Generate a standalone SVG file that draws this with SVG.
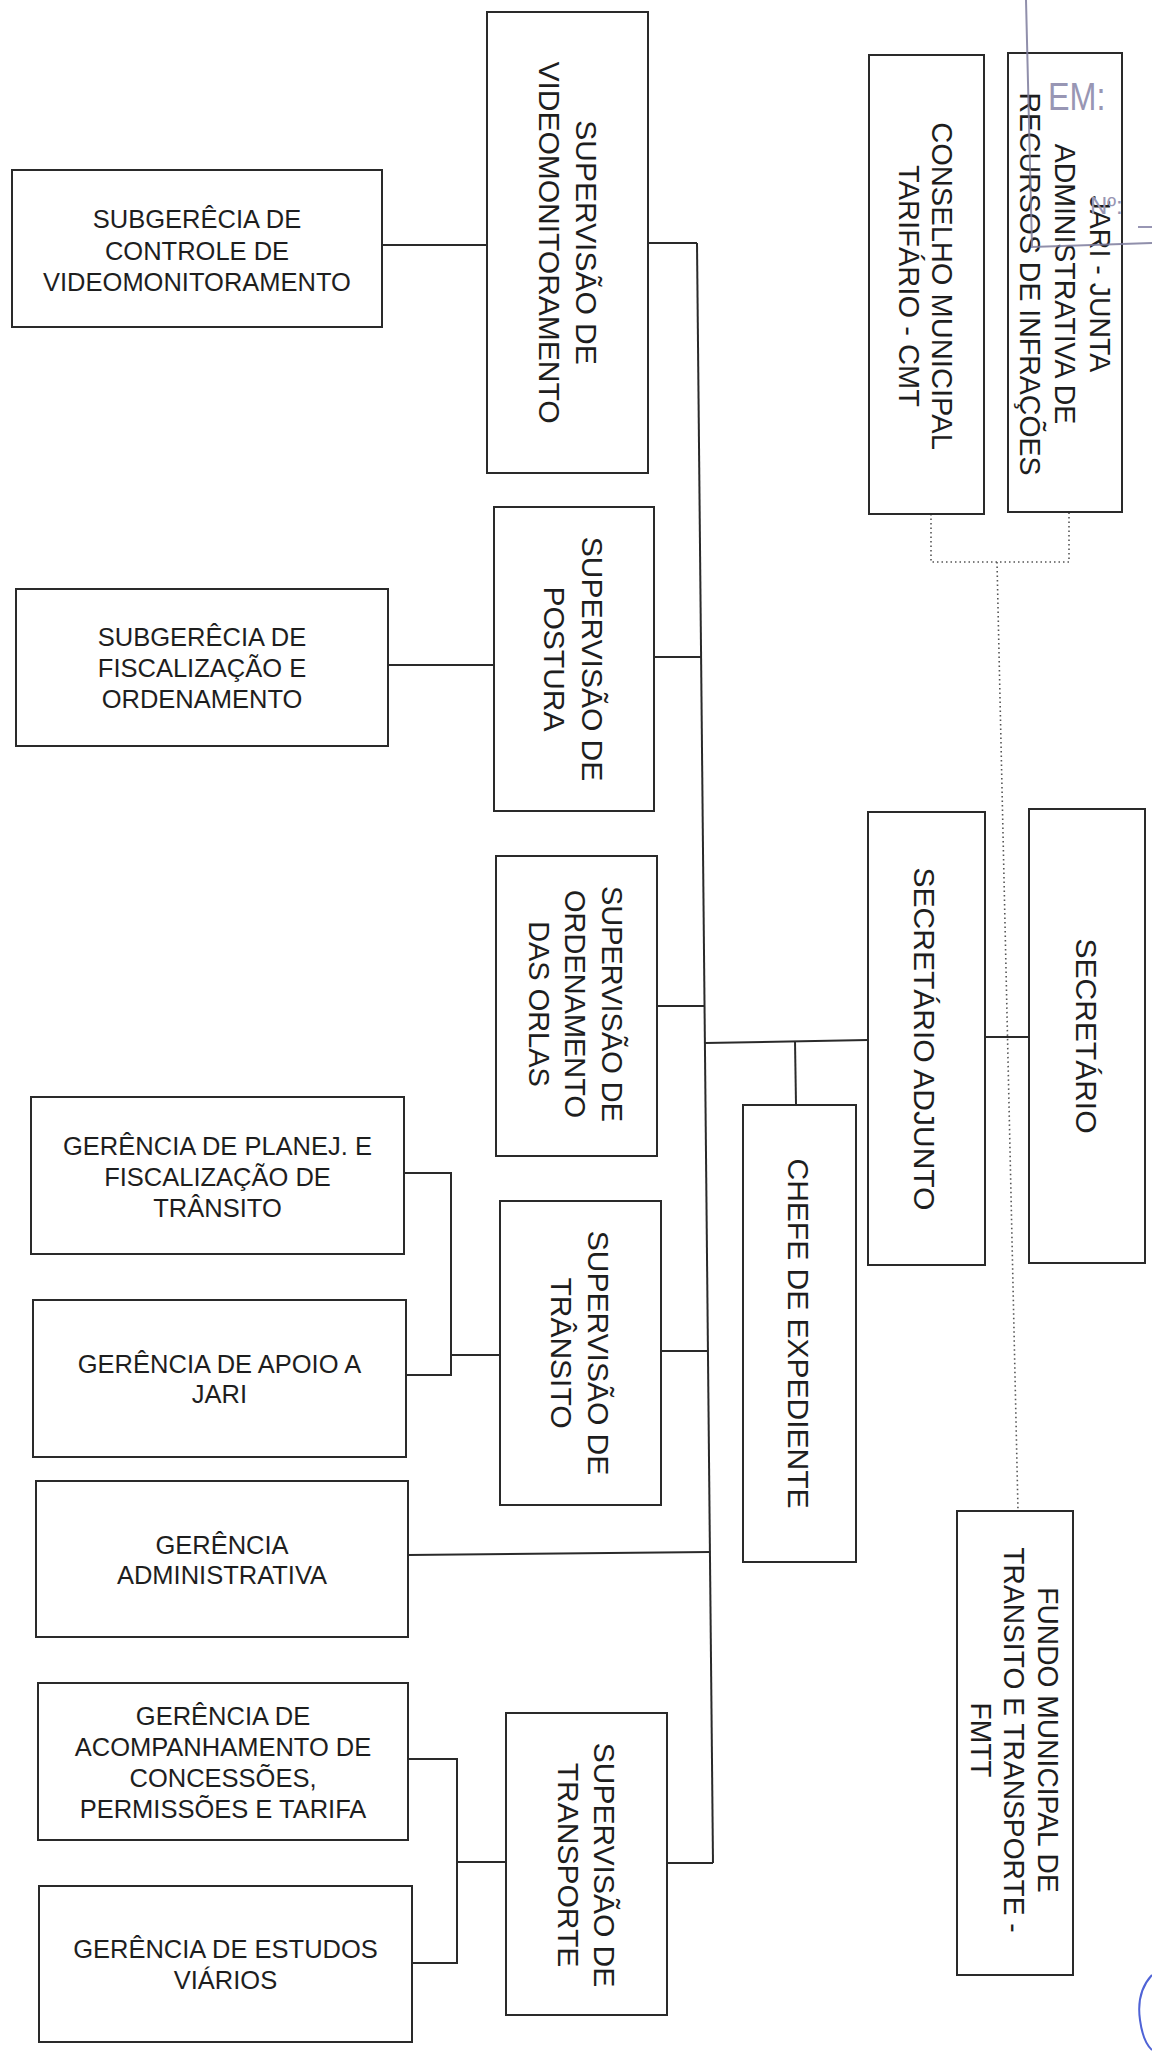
<svg xmlns="http://www.w3.org/2000/svg" width="1152" height="2054" viewBox="0 0 1152 2054">
<style>
.box{fill:#fff;stroke:#2a2a2a;stroke-width:2}
.ln{fill:none;stroke:#2a2a2a;stroke-width:2}
.dot{fill:none;stroke:#555;stroke-width:1.6;stroke-dasharray:1.5 3}
.h{font-family:"Liberation Sans",Arial,sans-serif;font-size:25.5px;fill:#1e1e1e;text-anchor:middle}
.v{font-family:"Liberation Sans",Arial,sans-serif;font-size:30px;fill:#1e1e1e;text-anchor:middle}
.stamp{font-family:"Liberation Sans",Arial,sans-serif;fill:#9896b4}
</style>
<rect width="1152" height="2054" fill="#fff"/>

<g id="connectors">
<line class="ln" x1="697" y1="243" x2="713" y2="1863"/>
<line class="ln" x1="382" y1="245" x2="487" y2="245"/>
<line class="ln" x1="648" y1="243" x2="697" y2="243"/>
<line class="ln" x1="388" y1="665" x2="494" y2="665"/>
<line class="ln" x1="654" y1="657" x2="701" y2="657"/>
<line class="ln" x1="657" y1="1006" x2="704.5" y2="1006"/>
<line class="ln" x1="705" y1="1043" x2="868" y2="1040"/>
<line class="ln" x1="795" y1="1041" x2="796" y2="1105"/>
<line class="ln" x1="985" y1="1037" x2="1029" y2="1037"/>
<polyline class="ln" points="404,1173 451,1173 451,1375 406,1375"/>
<line class="ln" x1="451" y1="1355" x2="500" y2="1355"/>
<line class="ln" x1="661" y1="1351" x2="708" y2="1351"/>
<line class="ln" x1="408" y1="1555" x2="710" y2="1552"/>
<polyline class="ln" points="408,1759 457,1759 457,1963 412,1963"/>
<line class="ln" x1="457" y1="1862" x2="506" y2="1862"/>
<line class="ln" x1="667" y1="1863" x2="713" y2="1863"/>
<polyline class="dot" points="931,514 931,562 1069,562 1069,512"/>
<line class="dot" x1="997" y1="562" x2="1018" y2="1511"/>
</g>

<g id="subgerencia-controle">
<rect class="box" x="12" y="170" width="370" height="157"/>
<text class="h"><tspan x="197" y="228">SUBGERÊCIA DE</tspan><tspan x="197" y="259.5">CONTROLE DE</tspan><tspan x="197" y="291">VIDEOMONITORAMENTO</tspan></text>
</g>

<g id="sup-videomonitoramento">
<rect class="box" x="487" y="12" width="161" height="461"/>
<text class="v" font-size="30.5" transform="translate(567.5,242.5) rotate(90)"><tspan x="0" y="-8">SUPERVISÃO DE</tspan><tspan x="0" y="29">VIDEOMONITORAMENTO</tspan></text>
</g>

<g id="conselho">
<rect class="box" x="869" y="55" width="115" height="459"/>
<text class="v" font-size="29" transform="translate(926.5,286) rotate(90) scale(0.97,1)"><tspan x="0" y="-6">CONSELHO MUNICIPAL</tspan><tspan x="0" y="27">TARIFÁRIO - CMT</tspan></text>
</g>

<g id="jari">
<rect class="box" x="1008" y="53" width="114" height="459"/>
<text class="v" font-size="28" transform="translate(1065,284) rotate(90) scale(0.95,1)"><tspan x="0" y="-25">JARI - JUNTA</tspan><tspan x="0" y="10">ADMINISTRATIVA DE</tspan><tspan x="0" y="45">RECURSOS DE INFRAÇÕES</tspan></text>
</g>

<g id="subgerencia-fiscalizacao">
<rect class="box" x="16" y="589" width="372" height="157"/>
<text class="h"><tspan x="202" y="645.5">SUBGERÊCIA DE</tspan><tspan x="202" y="676.5">FISCALIZAÇÃO E</tspan><tspan x="202" y="707.5">ORDENAMENTO</tspan></text>
</g>

<g id="sup-postura">
<rect class="box" x="494" y="507" width="160" height="304"/>
<text class="v" transform="translate(574,659) rotate(90)"><tspan x="0" y="-8">SUPERVISÃO DE</tspan><tspan x="0" y="30">POSTURA</tspan></text>
</g>

<g id="sup-orlas">
<rect class="box" x="496" y="856" width="161" height="300"/>
<text class="v" font-size="29.5" transform="translate(576.5,1004) rotate(90) scale(0.965,1)"><tspan x="0" y="-25.5">SUPERVISÃO DE</tspan><tspan x="0" y="11">ORDENAMENTO</tspan><tspan x="0" y="47.5">DAS ORLAS</tspan></text>
</g>

<g id="secretario-adjunto">
<rect class="box" x="868" y="812" width="117" height="453"/>
<text class="v" transform="translate(926.5,1039) rotate(90)"><tspan x="0" y="13">SECRETÁRIO ADJUNTO</tspan></text>
</g>

<g id="secretario">
<rect class="box" x="1029" y="809" width="116" height="454"/>
<text class="v" transform="translate(1087,1036) rotate(90)"><tspan x="0" y="11.5">SECRETÁRIO</tspan></text>
</g>

<g id="chefe-expediente">
<rect class="box" x="743" y="1105" width="113" height="457"/>
<text class="v" font-size="30.5" transform="translate(799.5,1333.5) rotate(90)"><tspan x="0" y="11.5">CHEFE DE EXPEDIENTE</tspan></text>
</g>

<g id="gerencia-planej">
<rect class="box" x="31" y="1097" width="373" height="157"/>
<text class="h"><tspan x="217.5" y="1155">GERÊNCIA DE PLANEJ. E</tspan><tspan x="217.5" y="1186">FISCALIZAÇÃO DE</tspan><tspan x="217.5" y="1217">TRÂNSITO</tspan></text>
</g>

<g id="gerencia-apoio">
<rect class="box" x="33" y="1300" width="373" height="157"/>
<text class="h"><tspan x="219.5" y="1373">GERÊNCIA DE APOIO A</tspan><tspan x="219.5" y="1403">JARI</tspan></text>
</g>

<g id="sup-transito">
<rect class="box" x="500" y="1201" width="161" height="304"/>
<text class="v" transform="translate(580.5,1353) rotate(90)"><tspan x="0" y="-7">SUPERVISÃO DE</tspan><tspan x="0" y="29.5">TRÂNSITO</tspan></text>
</g>

<g id="gerencia-administrativa">
<rect class="box" x="36" y="1481" width="372" height="156"/>
<text class="h"><tspan x="222" y="1553.5">GERÊNCIA</tspan><tspan x="222" y="1583.5">ADMINISTRATIVA</tspan></text>
</g>

<g id="fundo">
<rect class="box" x="957" y="1511" width="116" height="464"/>
<text class="v" font-size="29" transform="translate(1015,1740) rotate(90) scale(0.94,1)"><tspan x="0" y="-23.5">FUNDO MUNICIPAL DE</tspan><tspan x="0" y="10.5">TRANSITO E TRANSPORTE -</tspan><tspan x="0" y="44.5">FMTT</tspan></text>
</g>

<g id="gerencia-acompanhamento">
<rect class="box" x="38" y="1683" width="370" height="157"/>
<text class="h"><tspan x="223" y="1724.5">GERÊNCIA DE</tspan><tspan x="223" y="1755.5">ACOMPANHAMENTO DE</tspan><tspan x="223" y="1786.5">CONCESSÕES,</tspan><tspan x="223" y="1817.5">PERMISSÕES E TARIFA</tspan></text>
</g>

<g id="sup-transporte">
<rect class="box" x="506" y="1713" width="161" height="302"/>
<text class="v" transform="translate(586.5,1865) rotate(90)"><tspan x="0" y="-7.5">SUPERVISÃO DE</tspan><tspan x="0" y="28.5">TRANSPORTE</tspan></text>
</g>

<g id="gerencia-estudos">
<rect class="box" x="39" y="1886" width="373" height="156"/>
<text class="h"><tspan x="225.5" y="1958">GERÊNCIA DE ESTUDOS</tspan><tspan x="225.5" y="1988.5">VIÁRIOS</tspan></text>
</g>

<g id="stamp">
<path d="M1026,0 L1032,247 L1152,243" fill="none" stroke="#7d7b9c" stroke-width="2" opacity="0.85"/>
<text class="stamp" font-size="38" transform="translate(1048,110) scale(0.85,1)">EM:</text>
<text class="stamp" font-size="24" x="1090" y="214">Nº:</text>
<line x1="1138" y1="227" x2="1152" y2="227" stroke="#9896b4" stroke-width="2"/>
<path d="M1152,1975 Q1136,1992 1140,2020 Q1143,2042 1152,2050" fill="none" stroke="#4f63d6" stroke-width="2"/>
</g>
</svg>
